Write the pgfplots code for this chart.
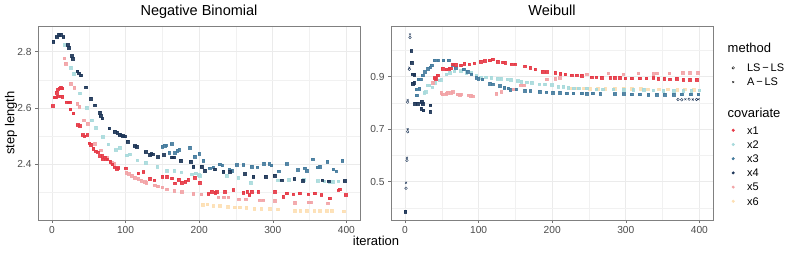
\documentclass[border=0pt]{standalone}
\usepackage{fontspec}
\setmainfont{Liberation Sans}
\usepackage{pgfplots}
\pgfplotsset{compat=1.18}
\definecolor{c1}{HTML}{E63946}
\definecolor{c2}{HTML}{A8DADC}
\definecolor{c3}{HTML}{457B9D}
\definecolor{c4}{HTML}{1D3557}
\definecolor{c5}{HTML}{F2A3A6}
\definecolor{c6}{HTML}{FDDFB2}
\definecolor{gridc}{HTML}{EBEBEB}
\pgfplotsset{
  panel/.style={
    scale only axis, width=322pt, height=194pt, anchor=south west,
    xmin=-19, xmax=418.5,
    axis line style={black!50, line width=0.6pt},
    tick style={black!55, line width=0.5pt},
    tick align=outside, major tick length=3pt, minor tick length=0pt,
    xtick pos=bottom, ytick pos=left,
    grid=both,
    major grid style={gridc, line width=0.6pt},
    minor grid style={gridc!70!white, line width=0.3pt},
    xtick={0,100,200,300,400}, minor xtick={50,150,250,350},
    ticklabel style={font=\fontsize{10.2}{12}\selectfont, text=black!70},
    /pgf/number format/assume math mode=true,
    yticklabel style={/pgf/number format/.cd, fixed, precision=1, fixed zerofill},
    title style={font=\fontsize{14.5}{16}\selectfont, at={(0.5,1)}, anchor=base, yshift=4.5pt},
  },
  s/.style={only marks, mark=square*, mark size=1.3pt, mark options={draw opacity=0.9, fill opacity=0.9}},
  s1/.style={s, color=c1},
  s2/.style={s, color=c2},
  s3/.style={s, color=c3},
  s4/.style={s, color=c4},
  s5/.style={s, color=c5},
  s6/.style={s, color=c6},
}
\newcommand{\st}[1]{\rule{0pt}{#1pt}}
\begin{document}
\begin{tikzpicture}
\useasboundingbox (0pt,0pt) rectangle (789pt,254pt);
% ---------------- Negative Binomial ----------------
\begin{axis}[panel, at={(38pt,34pt)}, ymin=2.202, ymax=2.891,
  ytick={2.4,2.6,2.8}, minor ytick={2.3,2.5,2.7},
  title={Negative Binomial}]
\addplot[s6] coordinates {(204.7,2.256)(211,2.258)(219,2.252)(228,2.252)(239,2.249)(248,2.247)(255,2.247)(264,2.246)(275,2.243)(284,2.242)(296,2.242)(307,2.240)(330,2.236)(337,2.236)(346,2.236)(356,2.234)(364,2.234)(373,2.234)(380,2.235)(396,2.233)};
\addplot[s5] coordinates {(16.7,2.776)(18.5,2.758)(25.2,2.687)(30.2,2.672)(34.3,2.616)(37,2.605)(43.3,2.557)(48.3,2.544)(58.2,2.473)(66.4,2.450)(74,2.424)(80.8,2.406)(84.4,2.402)(101,2.370)(104,2.366)(108,2.360)(112.5,2.352)(117,2.348)(121,2.342)(126,2.337)(128,2.335)(139.6,2.326)(144,2.322)(149.5,2.318)(156,2.312)(166,2.306)(176,2.302)(192,2.295)(203,2.293)(226,2.283)(233,2.283)(239.5,2.283)(254,2.276)(263,2.276)(282,2.273)(287,2.273)(303,2.271)(330,2.264)(348,2.265)(352,2.265)(375,2.262)};
\addplot[s2] coordinates {(17.6,2.824)(25.7,2.743)(29.8,2.722)(37.9,2.652)(47,2.601)(53.7,2.556)(59.6,2.530)(68.6,2.497)(76.3,2.471)(86.3,2.451)(92.1,2.459)(101.2,2.432)(105.7,2.435)(115.6,2.415)(127,2.406)(142.8,2.392)(156,2.378)(166,2.378)(175.3,2.372)(190,2.365)(195,2.368)(199,2.362)(201,2.359)(237,2.360)(253,2.353)(270,2.335)(307,2.344)(322,2.345)(342,2.345)(361,2.341)(370,2.340)(377,2.339)(382,2.338)(389,2.340)};
\addplot[s1] coordinates {(1,2.607)(3,2.638)(5,2.638)(6,2.655)(8,2.667)(10,2.670)(12,2.672)(14,2.670)(8,2.642)(11,2.642)(14,2.640)(20,2.621)(22,2.621)(24,2.621)(25,2.595)(29,2.581)(35,2.540)(38,2.536)(41.5,2.504)(44,2.500)(47.8,2.504)(50.6,2.475)(52.8,2.470)(56,2.455)(59,2.447)(62,2.443)(65,2.430)(68,2.430)(72,2.425)(69,2.418)(73,2.418)(75,2.418)(79,2.410)(82,2.400)(85,2.390)(88,2.385)(90,2.387)(100,2.386)(117,2.368)(124,2.373)(133,2.349)(139,2.344)(150,2.356)(156,2.356)(163,2.350)(167,2.333)(172,2.345)(176,2.335)(181,2.338)(185,2.345)(194,2.352)(201,2.335)(212.4,2.295)(217,2.303)(221.5,2.300)(224,2.302)(235,2.303)(246,2.309)(260,2.300)(265,2.303)(268,2.291)(271,2.303)(280,2.303)(303,2.303)(314,2.285)(318.6,2.297)(327.7,2.294)(336.7,2.297)(348,2.294)(357,2.297)(366,2.291)(377,2.279)(389,2.308)(391,2.311)(399,2.291)};
\addplot[s3] coordinates {(150,2.462)(153,2.466)(155,2.468)(162.6,2.472)(159,2.441)(167,2.440)(170,2.448)(172.6,2.452)(187.5,2.459)(194,2.427)(200,2.438)(205.6,2.413)(214,2.386)(219,2.390)(228,2.400)(231,2.396)(241,2.383)(244,2.378)(250.8,2.398)(260,2.398)(271,2.392)(279,2.390)(288,2.402)(295,2.401)(298,2.396)(308,2.376)(318.6,2.401)(334,2.380)(343,2.386)(346,2.378)(354,2.418)(361,2.389)(364,2.392)(374,2.410)(382,2.382)(386,2.376)(394.5,2.413)};
\addplot[s4] coordinates {(1.7,2.835)(6.3,2.852)(9.4,2.861)(12,2.861)(15.3,2.852)(21,2.824)(23,2.814)(27,2.785)(28,2.775)(34.3,2.731)(36.5,2.724)(39.2,2.716)(46,2.674)(52.8,2.633)(58.2,2.610)(65,2.583)(66,2.572)(68,2.563)(77.7,2.528)(85,2.516)(88.5,2.512)(92,2.505)(94,2.503)(96,2.501)(99,2.499)(102.5,2.480)(112.5,2.465)(115,2.462)(127.4,2.444)(133,2.434)(135,2.437)(137.3,2.436)(144,2.426)(152,2.433)(163,2.425)(165,2.425)(175,2.413)(188.4,2.410)(192,2.392)(203.3,2.392)(207.8,2.378)(221.4,2.382)(232.7,2.374)(241.7,2.374)(262,2.366)(273.4,2.356)(290.5,2.356)(302.7,2.359)(311.8,2.344)(329,2.348)(341,2.342)(367,2.344)(376,2.340)(397.6,2.341)};
\end{axis}
% ---------------- Weibull ----------------
\begin{axis}[panel, at={(391pt,34pt)}, ymin=0.354, ymax=1.093,
  ytick={0.5,0.7,0.9}, minor ytick={0.4,0.6,0.8,1.0},
  title={Weibull},
  legend style={at={(1.0435,0.914)}, anchor=north west, draw=none, fill=none,
    inner sep=0pt, outer sep=0pt, row sep=0pt, column sep=7.7pt,
    nodes={inner sep=0pt, text depth=0pt, anchor=base west}, font=\fontsize{11}{13}\selectfont},
  legend cell align=left,
  legend image code/.code={\path (-6pt,0pt) (6pt,0pt); \draw[#1] plot coordinates {(0pt,3.8pt)};}]
\addplot[s6, forget plot] coordinates {(225,0.856)(233,0.856)(243,0.856)(251,0.855)(262,0.855)(272,0.855)(285,0.854)(297,0.855)(308,0.855)(320,0.854)(330,0.853)(345,0.853)(357,0.852)(370,0.851)(380,0.852)(392,0.851)};
\addplot[s2, forget plot] coordinates {(26,0.840)(28.5,0.842)(30,0.867)(33,0.867)(37,0.860)(40,0.877)(46.7,0.887)(49,0.889)(56,0.909)(61,0.915)(67,0.921)(76,0.922)(83,0.915)(90,0.915)(96.5,0.905)(103,0.896)(110,0.898)(117,0.897)(126,0.892)(130.5,0.892)(138.6,0.890)(144,0.889)(153,0.884)(158,0.881)(165,0.879)(172,0.877)(182.5,0.872)(190,0.871)(199,0.869)(208,0.862)(215,0.862)(222,0.858)(229,0.856)(236,0.856)(247,0.856)(260,0.852)(269,0.852)(283,0.852)(297,0.850)(310,0.850)(324,0.850)(337,0.848)(351,0.847)(365,0.847)(378,0.847)(389,0.847)(400,0.848)};
\addplot[s3, forget plot] coordinates {(15,0.852)(16,0.829)(18,0.890)(21,0.890)(19.5,0.855)(24,0.905)(27,0.918)(31,0.930)(34,0.936)(36,0.943)(40,0.962)(45,0.962)(52,0.962)(59,0.962)(65,0.945)(69,0.934)(79.8,0.928)(85,0.920)(90,0.910)(96.5,0.897)(99.7,0.893)(105,0.890)(115.5,0.874)(119,0.872)(129,0.865)(135,0.858)(140,0.856)(142.7,0.850)(151,0.852)(163,0.847)(170,0.846)(183,0.843)(192,0.841)(201,0.840)(210.6,0.840)(219.7,0.837)(228.7,0.837)(240,0.837)(247,0.836)(255,0.837)(265,0.836)(285,0.834)(297,0.834)(308,0.833)(319,0.833)(330.7,0.832)(342,0.831)(353,0.831)(364.7,0.831)(376,0.833)(388,0.833)(398.6,0.833)};
\addplot[s5, forget plot] coordinates {(38,0.877)(49,0.839)(51,0.833)(56,0.836)(58,0.840)(62,0.838)(65,0.842)(71.6,0.833)(74,0.832)(76,0.833)(86,0.830)(89,0.828)(92,0.826)(124,0.835)(130.5,0.842)(147,0.852)(157,0.868)(161,0.868)(192.5,0.890)(204,0.893)(210,0.895)(247,0.910)(276,0.913)(296.7,0.910)(317,0.913)(337,0.912)(342,0.913)(359,0.913)(377,0.916)(387,0.916)(398,0.916)};
\addplot[s1, forget plot] coordinates {(40,0.895)(42,0.892)(44.4,0.905)(51,0.930)(56,0.928)(60,0.930)(62,0.932)(65,0.947)(69,0.946)(76,0.943)(80.6,0.950)(87,0.948)(94,0.952)(103,0.958)(108,0.960)(115,0.962)(119,0.966)(126,0.958)(133,0.955)(136,0.953)(145,0.948)(149.5,0.948)(163,0.940)(170,0.934)(176.7,0.928)(187,0.920)(192.5,0.918)(204,0.915)(211,0.912)(217.5,0.909)(226.5,0.906)(233,0.906)(240,0.904)(253.7,0.898)(260,0.898)(267,0.897)(278.6,0.897)(285,0.897)(292,0.896)(299,0.894)(308,0.894)(319,0.894)(328,0.894)(337.5,0.895)(344,0.893)(352,0.893)(360,0.891)(369,0.892)(378,0.889)(387,0.889)(396,0.889)};
\addplot[s4, forget plot] coordinates {(0.5,0.386)(8.2,0.998)(9,0.953)(10.5,0.910)(12.7,0.908)(10.4,0.873)(12.5,0.878)(13.6,0.798)(17,0.798)(22.7,0.805)(24,0.797)(21.8,0.778)(25,0.772)(34.5,0.792)(34,0.767)};
\addplot[only marks, mark=o, mark size=1.3pt, color=c4, mark options={line width=0.4pt}, forget plot] coordinates {(6.8,1.049)(5.9,0.928)(3.6,0.803)(3.6,0.690)(2.7,0.581)(1.4,0.475)(371,0.813)(376,0.812)(386,0.814)(396,0.813)};
\addplot[only marks, mark=x, mark size=1.4pt, color=c4, mark options={line width=0.4pt}, forget plot] coordinates {(6.8,1.061)(5.9,0.934)(3.6,0.811)(3.6,0.700)(2.7,0.591)(1.4,0.496)(381,0.814)(391,0.813)(399,0.814)};
% legend
\addlegendimage{empty legend}
\addlegendentry{\hspace*{-19.4pt}\fontsize{13}{15}\selectfont\st{10}method}
\addlegendimage{only marks, mark=o, mark size=1.3pt, black, mark options={line width=0.4pt}}
\addlegendentry{\st{19}LS\,\char"2212\,LS}
\addlegendimage{only marks, mark=x, mark size=1.3pt, black, mark options={line width=0.4pt}}
\addlegendentry{\st{14}A\,\char"2212\,LS}
\addlegendimage{empty legend}
\addlegendentry{\hspace*{-19.4pt}\fontsize{13}{15}\selectfont\st{31}covariate}
\addlegendimage{only marks, mark=*, mark size=1.3pt, c1}
\addlegendentry{\st{17}x1}
\addlegendimage{only marks, mark=*, mark size=1.3pt, c2}
\addlegendentry{\st{14}x2}
\addlegendimage{only marks, mark=*, mark size=1.3pt, c3}
\addlegendentry{\st{14}x3}
\addlegendimage{only marks, mark=*, mark size=1.3pt, c4}
\addlegendentry{\st{14}x4}
\addlegendimage{only marks, mark=*, mark size=1.3pt, c5}
\addlegendentry{\st{14}x5}
\addlegendimage{only marks, mark=*, mark size=1.3pt, c6}
\addlegendentry{\st{14}x6}
\end{axis}
\node[rotate=90, font=\fontsize{13}{15}\selectfont] at (11pt,131pt) {step length};
\node[anchor=base, font=\fontsize{13}{15}\selectfont] at (376pt,9pt) {iteration};
\end{tikzpicture}
\end{document}
